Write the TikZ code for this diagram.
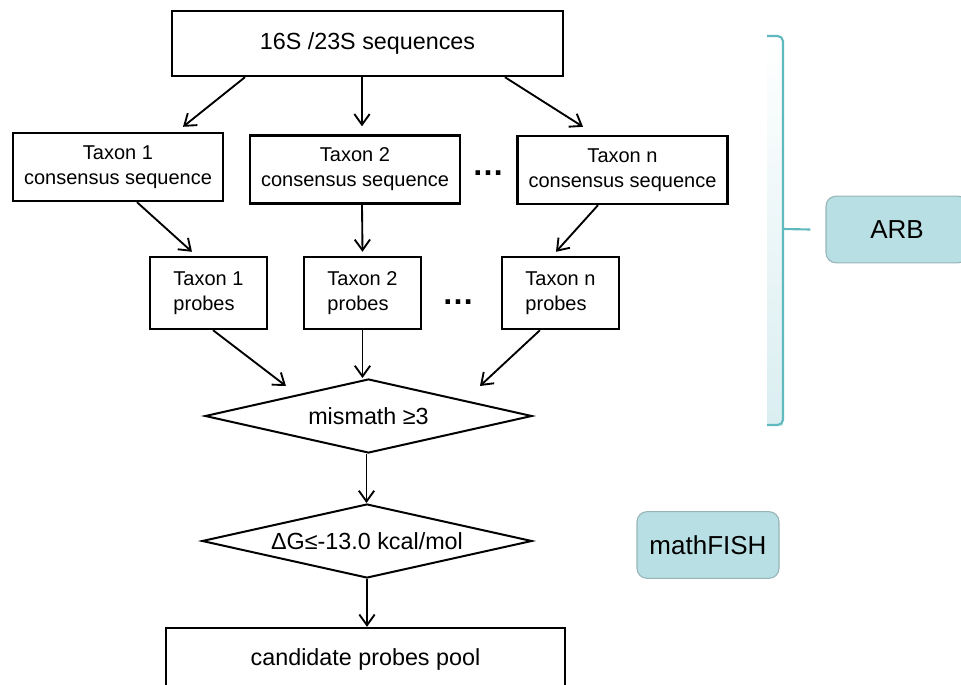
\documentclass[tikz,border=0pt]{standalone}
\usepackage{fontspec}
\setmainfont{Liberation Sans}
\usepackage{xcolor}
\usetikzlibrary{shapes.geometric,arrows.meta}

\definecolor{toolfill}{RGB}{184,223,227}
\definecolor{tooldraw}{RGB}{150,180,184}
\definecolor{bracecol}{RGB}{95,185,190}
\definecolor{braceshade}{RGB}{218,238,241}

\tikzset{
    box/.style={draw, line width=1.8pt, rectangle, inner sep=0pt},
    taxbox/.style={box, minimum width=157.5pt, minimum height=51pt, align=center, font=\fontsize{15}{18.75}\selectfont},
    prbbox/.style={box, minimum width=87.75pt, minimum height=54pt, align=left, font=\fontsize{15}{18.5}\selectfont},
    cond/.style={draw, line width=1.5pt, diamond, shape aspect=4.4, inner sep=0pt, minimum height=55.5pt, font=\fontsize{17.5}{21}\selectfont},
    tool/.style={draw=tooldraw, fill=toolfill, line width=0.8pt, rounded corners=7.5pt, minimum width=106.5pt, minimum height=50pt, font=\fontsize{19.5}{23}\selectfont},
    arr/.style={-{Straight Barb[length=8pt,width=11.5pt]}, line width=1.4pt},
    ellip/.style={inner sep=0pt, font=\fontsize{24}{24}\selectfont\bfseries},
    arbbrace/.style={draw=bracecol, line width=1.6pt}
}

\begin{document}
\begin{tikzpicture}[x=0.75pt, y=-0.75pt]
        \useasboundingbox (0,0) rectangle (961,685);
        \clip (0,0) rectangle (961,685);

        \node[box, minimum width=293.25pt, minimum height=48.75pt, font=\fontsize{17.5}{21}\selectfont] (seq) at (367.5,43.5) {16S /23S sequences};

        \node[taxbox] (cons1) at (118,167) {Taxon 1\\consensus sequence};
        \node[taxbox] (cons2) at (355,169.5) {Taxon 2\\consensus sequence};
        \node[taxbox] (consn) at (622.5,170) {Taxon n\\consensus sequence};
        \node[ellip] (dotsa) at (488,173) {…};

        \node[prbbox] (prb1) at (208.5,293) {Taxon 1\\probes};
        \node[prbbox] (prb2) at (362.5,293) {Taxon 2\\probes};
        \node[prbbox] (prbn) at (560.5,293) {Taxon n\\probes};
        \node[ellip] (dotsb) at (458,302) {…};

        \node[cond, minimum width=245.25pt] (mis) at (368.5,416) {mismath ≥3};
        \node[cond, minimum width=247.5pt] (dg) at (367,541) {ΔG≤-13.0 kcal/mol};
        \node[box, minimum width=299.25pt, minimum height=46.5pt, font=\fontsize{17.5}{21}\selectfont] (pool) at (365.5,659) {candidate probes pool};

        \node[tool] (arb) at (897,229.5) {ARB};
        \node[tool] (fish) at (708,545) {mathFISH};

        \draw[arr] ([xshift=-91.9pt]seq.south) -- ([xshift=48.75pt, yshift=3.75pt]cons1.north);
        \draw[arr] ([xshift=-4.1pt]seq.south) -- ([xshift=5.25pt, yshift=6pt]cons2.north);
        \draw[arr] ([xshift=103.1pt]seq.south) -- ([xshift=-29.6pt, yshift=6pt]consn.north);

        \draw[arr] ([xshift=14.25pt]cons1.south) -- ([xshift=-12.4pt, yshift=3pt]prb1.north);
        \draw[arr] ([xshift=5.25pt]cons2.south) -- ([yshift=3pt]prb2.north);
        \draw[arr] ([xshift=-18.4pt]consn.south) -- ([xshift=-3.4pt, yshift=3pt]prbn.north);

        \draw[arr] ([xshift=3.4pt]prb1.south) -- ([xshift=-61.9pt, yshift=-6pt]mis.north);
        \draw[arr] (prb2.south) -- (prb2.south |- mis.north);
        \draw[arr] ([xshift=-15.4pt]prbn.south) -- ([xshift=83.6pt, yshift=-6pt]mis.north);

        \draw[arr] ([xshift=-1.5pt]mis.south) -- ([xshift=-1.5pt]mis.south |- dg.north);
        \draw[arr] (dg.south) -- (dg.south |- pool.north);

        \shade[top color=white, bottom color=braceshade] (767,36) rectangle (783,425);
        \draw[arbbrace, rounded corners=4pt] (767,36) -- (783,36) -- (783,425) -- (767,425);
        \draw[arbbrace] (783,229) -- ([xshift=-11.25pt]arb.west);
\end{tikzpicture}
\end{document}
